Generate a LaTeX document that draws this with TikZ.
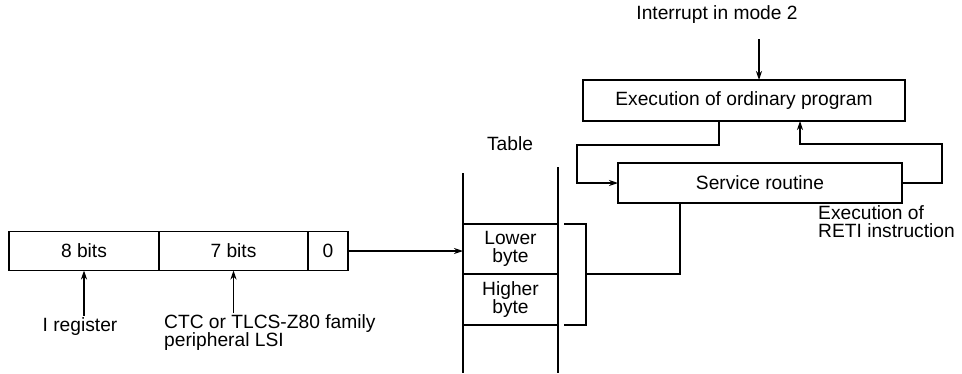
\documentclass[tikz,border=0pt]{standalone}
\usepackage{fontspec}
\setmainfont{Liberation Sans}
\usetikzlibrary{arrows.meta,positioning,calc}
\tikzset{
    bloco/.style={
        rectangle,
        draw,
        line width=1.1pt,
        inner sep=0pt,
        outer sep=0pt,
        align=center,
        minimum height=40pt
    },
    campo/.style={bloco, minimum height=39pt},
    rotulo/.style={align=left, inner sep=1pt},
    fluxo/.style={-{Stealth[length=9pt,width=6pt]}, line width=1.1pt},
    linha/.style={line width=1.1pt}
}

\begin{document}
\begin{tikzpicture}[x=1pt, y=-1pt, font=\fontsize{19.2}{18}\selectfont]
    \useasboundingbox (0,0) rectangle (962,373);

    % registrador do vetor
    \node[campo, minimum width=150pt] (oito) at (84,251) {8 bits};
    \node[campo, minimum width=149pt, right=0pt of oito] (sete) {7 bits};
    \node[campo, minimum width=40pt, right=0pt of sete] (zero) {0};
    \node[rotulo] (ireg) at (80,327) {I register};
    \node[rotulo, anchor=north west] (ctc) at (163,313)
        {CTC or TLCS-Z80 family\\peripheral LSI};

    \draw[fluxo, shorten <=1pt] (oito.south |- ireg.north) -- (oito.south);
    \draw[fluxo] (sete.south |- ctc.north) -- (sete.south);

    % tabela
    \node (tab) at (510,144) {Table};
    \node[bloco, minimum width=95pt, minimum height=50pt] (baixo) at (510.5,249) {Lower\\byte};
    \node[bloco, minimum width=95pt, minimum height=51pt, below=0pt of baixo] (alto) {Higher\\byte};
    \coordinate (topoE) at (463,173);
    \coordinate (topoD) at (558,167);
    \coordinate (fundo) at (0,373);
    \draw[linha] (topoE) -- (topoE |- fundo);
    \draw[linha] (topoD) -- (topoD |- fundo);
    \draw[fluxo] (zero.east) -- (zero.east -| baixo.west);

    \draw[linha] ([xshift=6pt]baixo.north east) -- ++(22,0) |- ([xshift=6pt]alto.south east);
    \coordinate (chave) at ([xshift=28pt]baixo.south east);

    % programa e rotina
    \node (int) at (717,15) {Interrupt in mode 2};
    \node[bloco, minimum width=322pt, minimum height=41pt] (exec) at (744,100.5)
        {Execution of ordinary program};
    \node[bloco, minimum width=284pt] (servico) at (760,183) {Service routine};
    \node[rotulo, anchor=north west] (reti) at (817,204) {Execution of\\RETI instruction};

    \draw[fluxo, shorten <=12pt] ([xshift=15pt]exec.north |- int.south) -- ([xshift=15pt]exec.north);
    \draw[fluxo] ([xshift=-25pt]exec.south) -- ++(0,24) -| ([xshift=-41pt]servico.west) -- (servico.west);
    \draw[fluxo] (servico.east) -- ++(40,0) |- ([xshift=56pt,yshift=-23pt]exec.south) -- ([xshift=56pt]exec.south);
    \draw[linha] (chave) -| ([xshift=-80pt]servico.south);
\end{tikzpicture}
\end{document}
